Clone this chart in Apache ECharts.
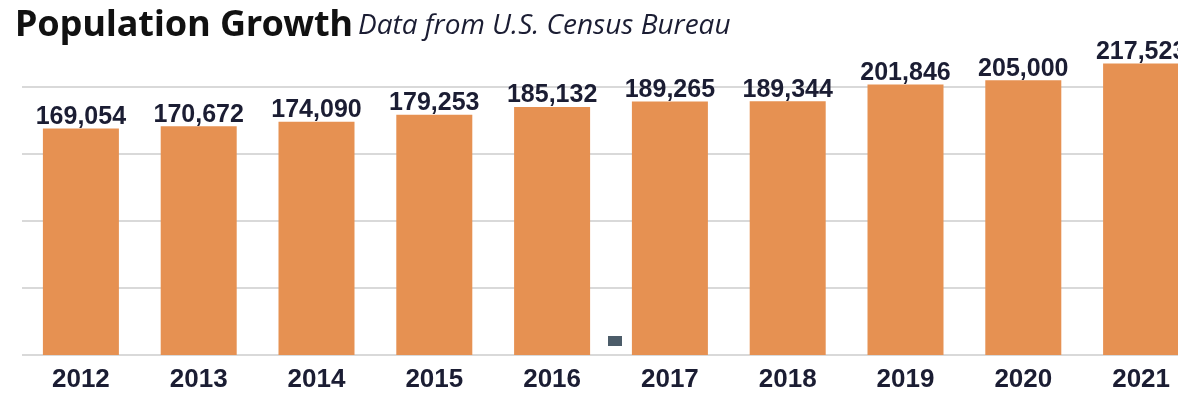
<!DOCTYPE html>
<html>
<head>
<meta charset="utf-8">
<script src="https://cdn.jsdelivr.net/npm/echarts@6/dist/echarts.min.js"></script>
<style>
  html, body { margin: 0; padding: 0; background: #ffffff; }
  #chart { width: 1178px; height: 398px; }
</style>
</head>
<body>
<div id="chart"></div>
<script>
// Population by year, U.S. Census Bureau
const years = ['2012', '2013', '2014', '2015', '2016', '2017', '2018', '2019', '2020', '2021'];
const population = [169054, 170672, 174090, 179253, 185132, 189265, 189344, 201846, 205000, 217523];
const titleText = 'Population Growth';
const subtitleText = 'Data from U.S. Census Bureau';

const numFont = '"Liberation Sans", Arial, sans-serif';
const ink = '#1b1d33';
const gridColor = '#d9d9d9';

const chart = echarts.init(document.getElementById('chart'), null, { renderer: 'canvas' });

chart.setOption({
  animation: false,
  backgroundColor: '#ffffff',
  title: {
    left: 10,
    top: -2,
    text: '{t|' + titleText + '} {s|' + subtitleText + '}',
    textStyle: {
      rich: {
        t: { fontFamily: '"Noto Sans", "Open Sans", sans-serif', fontWeight: 'bold', fontSize: 36, color: '#111111', lineHeight: 46 },
        s: { fontFamily: '"Open Sans", "Noto Sans", sans-serif', fontStyle: 'italic', fontWeight: 'normal', fontSize: 28, color: ink, lineHeight: 46 }
      }
    }
  },
  grid: { left: 22, top: 20, width: 1178, bottom: 43, containLabel: false, outerBoundsMode: 'none' },
  xAxis: {
    type: 'category',
    data: years,
    axisLine: { show: false },
    axisTick: { show: false },
    axisLabel: { fontFamily: numFont, fontWeight: 'bold', fontSize: 26, color: ink, margin: 12 }
  },
  yAxis: {
    type: 'value',
    min: 0,
    max: 250000,
    interval: 50000,
    axisLabel: { show: false },
    axisLine: { show: false },
    axisTick: { show: false },
    splitLine: {
      show: true,
      lineStyle: { width: 2, color: [gridColor, gridColor, gridColor, gridColor, gridColor, 'rgba(0,0,0,0)'] }
    }
  },
  series: [{
    type: 'bar',
    data: population,
    barWidth: 76,
    itemStyle: { color: '#e69152' },
    label: {
      show: true,
      position: 'top',
      distance: -1,
      fontFamily: numFont,
      fontWeight: 'bold',
      fontSize: 25,
      color: ink,
      formatter: p => p.value.toLocaleString('en-US')
    }
  }],
  graphic: [{
    type: 'rect',
    left: 608,
    top: 336,
    shape: { width: 14, height: 10 },
    style: { fill: '#4c5c69' }
  }]
});
</script>
</body>
</html>
